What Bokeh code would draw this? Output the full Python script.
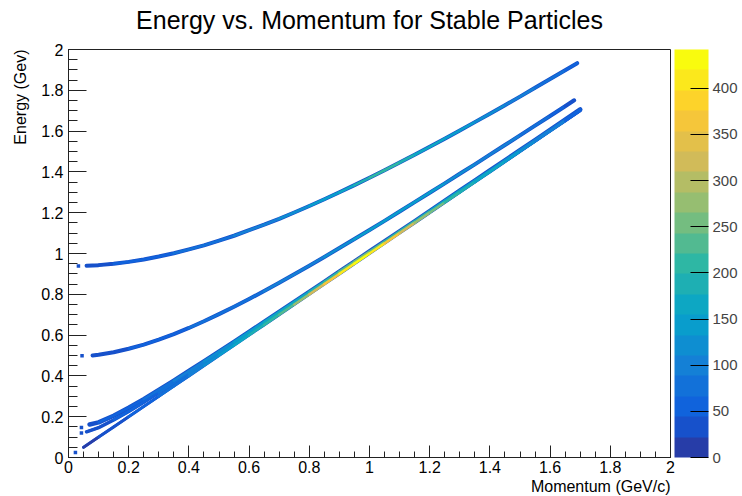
import numpy as np
from bokeh.plotting import figure
from bokeh.models import (ColumnDataSource, LinearColorMapper, ColorBar, FixedTicker,
                          Title, Range1d)
from bokeh.transform import transform
from bokeh.embed import file_html
from bokeh.resources import INLINE

# ---------------- data ----------------
proton_p = [0.06, 0.10, 0.15, 0.20, 0.25, 0.30, 0.35, 0.40, 0.45, 0.50, 0.55, 0.60, 0.65, 0.70,
            0.75, 0.80, 0.85, 0.90, 0.95, 1.00, 1.05, 1.10, 1.15, 1.20, 1.25, 1.30, 1.35, 1.40,
            1.45, 1.50, 1.55, 1.60, 1.65, 1.69]
proton_E = [0.940, 0.943, 0.950, 0.959, 0.971, 0.985, 1.001, 1.020, 1.040, 1.063, 1.087, 1.114,
            1.141, 1.170, 1.201, 1.233, 1.266, 1.300, 1.335, 1.371, 1.408, 1.446, 1.484, 1.523,
            1.563, 1.603, 1.644, 1.685, 1.727, 1.769, 1.812, 1.855, 1.898, 1.933]
proton_n = [35, 40, 45, 50, 55, 60, 65, 70, 75, 80, 85, 95, 105, 115, 125, 135, 145, 160, 180,
            200, 210, 190, 170, 160, 150, 140, 130, 120, 110, 100, 90, 80, 60, 35]

kaon_p = [0.08, 0.10, 0.15, 0.20, 0.25, 0.30, 0.35, 0.40, 0.45, 0.50, 0.55, 0.60, 0.65, 0.70,
          0.75, 0.80, 0.85, 0.90, 0.95, 1.00, 1.05, 1.10, 1.15, 1.20, 1.25, 1.30, 1.35, 1.40,
          1.45, 1.50, 1.55, 1.60, 1.65, 1.68]
kaon_E = [0.500, 0.504, 0.516, 0.533, 0.553, 0.578, 0.605, 0.635, 0.668, 0.703, 0.739, 0.777,
          0.816, 0.857, 0.898, 0.940, 0.983, 1.027, 1.071, 1.115, 1.160, 1.206, 1.252, 1.298,
          1.344, 1.391, 1.437, 1.485, 1.532, 1.579, 1.627, 1.674, 1.722, 1.751]
kaon_n = [35, 40, 40, 45, 50, 55, 60, 65, 70, 75, 80, 85, 90, 95, 100, 105, 110, 120, 130, 140,
          150, 150, 145, 140, 130, 120, 110, 105, 95, 85, 75, 65, 50, 30]

pion_p = [0.07, 0.10, 0.15, 0.20, 0.25, 0.30, 0.35, 0.40, 0.45, 0.50, 0.55, 0.60, 0.65, 0.70,
          0.75, 0.80, 0.85, 0.90, 0.95, 1.00, 1.05, 1.10, 1.15, 1.20, 1.25, 1.30, 1.35, 1.40,
          1.45, 1.50, 1.55, 1.60, 1.65, 1.70]
pion_E = [0.162, 0.172, 0.205, 0.244, 0.286, 0.331, 0.377, 0.424, 0.471, 0.519, 0.567, 0.616,
          0.665, 0.714, 0.763, 0.812, 0.861, 0.911, 0.960, 1.010, 1.059, 1.109, 1.158, 1.208,
          1.258, 1.308, 1.357, 1.407, 1.457, 1.507, 1.556, 1.606, 1.656, 1.706]
pion_n = [30, 40, 50, 60, 70, 80, 90, 100, 110, 120, 130, 140, 150, 160, 170, 180, 200, 220,
          240, 250, 230, 210, 190, 170, 160, 150, 140, 130, 120, 110, 100, 90, 70, 40]

muon_p = [0.06, 0.10, 0.15, 0.20, 0.25, 0.30, 0.35, 0.40, 0.45, 0.50, 0.55, 0.60, 0.65, 0.70,
          0.75, 0.80, 0.85, 0.90, 0.95, 1.00, 1.05, 1.10, 1.15, 1.20, 1.25, 1.30, 1.35, 1.40,
          1.45, 1.50, 1.55, 1.60, 1.65, 1.70]
muon_E = [0.126, 0.146, 0.184, 0.226, 0.271, 0.318, 0.366, 0.414, 0.462, 0.511, 0.560, 0.609,
          0.659, 0.708, 0.757, 0.807, 0.857, 0.906, 0.956, 1.006, 1.055, 1.105, 1.155, 1.205,
          1.255, 1.304, 1.354, 1.404, 1.454, 1.504, 1.554, 1.604, 1.653, 1.703]
muon_n = [20, 30, 40, 50, 60, 70, 80, 90, 100, 110, 120, 130, 140, 150, 160, 170, 190, 210,
          230, 240, 220, 200, 180, 160, 150, 140, 130, 120, 110, 100, 90, 80, 60, 35]

electron_p = [0.05, 0.10, 0.15, 0.20, 0.25, 0.30, 0.35, 0.40, 0.45, 0.50, 0.55, 0.60, 0.65,
              0.70, 0.75, 0.80, 0.85, 0.90, 0.95, 1.00, 1.05, 1.10, 1.15, 1.20, 1.25, 1.30,
              1.35, 1.40, 1.45, 1.50, 1.55, 1.60, 1.65, 1.70]
electron_E = [0.050, 0.100, 0.150, 0.200, 0.250, 0.300, 0.350, 0.400, 0.450, 0.500, 0.550,
              0.600, 0.650, 0.700, 0.750, 0.800, 0.850, 0.900, 0.950, 1.000, 1.050, 1.100,
              1.150, 1.200, 1.250, 1.300, 1.350, 1.400, 1.450, 1.500, 1.550, 1.600, 1.650, 1.700]
electron_n = [15, 20, 30, 40, 50, 60, 75, 90, 110, 130, 150, 170, 190, 220, 260, 300, 340, 380,
              420, 435, 380, 330, 290, 260, 230, 200, 180, 160, 150, 130, 120, 100, 80, 50]

# isolated low-momentum cells
dots_p = [0.023, 0.043, 0.043, 0.033, 0.045]
dots_E = [0.024, 0.120, 0.147, 0.939, 0.499]

x_ticks = [0, 0.2, 0.4, 0.6, 0.8, 1, 1.2, 1.4, 1.6, 1.8, 2]
x_tick_labels = ["0", "0.2", "0.4", "0.6", "0.8", "1", "1.2", "1.4", "1.6", "1.8", "2"]
y_ticks = x_ticks
y_tick_labels = x_tick_labels
z_ticks = [0, 50, 100, 150, 200, 250, 300, 350, 400]
z_max = 442

title_text = "Energy vs. Momentum for Stable Particles"
x_title = "Momentum (GeV/c)"
y_title = "Energy (Gev)"

# ---------------- ROOT kBird palette, 20 contour levels ----------------
_st = np.linspace(0, 1, 9)
_R = [0.2082, 0.0592, 0.0780, 0.0232, 0.1802, 0.5301, 0.8186, 0.9956, 0.9764]
_G = [0.1664, 0.3599, 0.5041, 0.6419, 0.7178, 0.7492, 0.7328, 0.7862, 0.9832]
_B = [0.5293, 0.8684, 0.8385, 0.7914, 0.6425, 0.4662, 0.3499, 0.1968, 0.0539]
palette = []
for i in range(20):
    t = min(int((i + 0.99) * 255 / 20) / 254.0, 1.0)
    r, g, b = (int(round(255 * np.interp(t, _st, c))) for c in (_R, _G, _B))
    palette.append("#%02x%02x%02x" % (r, g, b))

mapper = LinearColorMapper(palette=palette, low=0, high=z_max)

FONT = "Liberation Sans"

p = figure(width=742, height=496, x_range=Range1d(0, 2), y_range=Range1d(0, 2),
           output_backend="svg", toolbar_location=None, title=None,
           min_border_left=67, min_border_right=72, min_border_top=49, min_border_bottom=39)
p.grid.visible = False
p.outline_line_color = "#222222"
p.background_fill_color = "white"

for ax, ticks, labels, tin, mtin, so in ((p.xaxis[0], x_ticks, x_tick_labels, 12, 6, 3),
                                         (p.yaxis[0], y_ticks, y_tick_labels, 18, 9, 5)):
    ax.ticker = FixedTicker(ticks=ticks, minor_ticks=[round(0.05 * k, 2) for k in range(41)])
    ax.major_label_overrides = dict(zip(ticks, labels))
    ax.major_tick_in = tin
    ax.major_tick_out = 0
    ax.minor_tick_in = mtin
    ax.minor_tick_out = 0
    ax.axis_line_color = "#222222"
    ax.major_tick_line_color = "#222222"
    ax.minor_tick_line_color = "#222222"
    ax.major_label_text_font = FONT
    ax.major_label_text_font_size = "16px"
    ax.major_label_text_color = "black"
    ax.major_label_standoff = so

curves = [(muon_p, muon_E, muon_n, 3.5),
          (pion_p, pion_E, pion_n, 4.5),
          (electron_p, electron_E, electron_n, 3.0),
          (kaon_p, kaon_E, kaon_n, 4.0),
          (proton_p, proton_E, proton_n, 4.0)]

# edge (low-count) cells of each track
for cp, cE, cn, w in curves:
    p.line(cp, cE, line_color=palette[1], line_width=w, line_join="round", line_cap="round")

# core cells coloured by bin content
for cp, cE, cn, w in curves:
    src = ColumnDataSource(dict(x0=cp[:-1], y0=cE[:-1], x1=cp[1:], y1=cE[1:],
                                n=[0.5 * (a + b) for a, b in zip(cn[:-1], cn[1:])]))
    p.segment("x0", "y0", "x1", "y1", source=src, line_width=2.6, line_cap="round",
              line_color=transform("n", mapper))

p.scatter(dots_p, dots_E, marker="square", size=3.5, fill_color=palette[1],
          line_color=None)

cb = ColorBar(color_mapper=mapper, ticker=FixedTicker(ticks=z_ticks), width=34,
              location=(4, 0), padding=0, margin=0, major_tick_in=18, major_tick_out=0,
              major_tick_line_color="black", minor_tick_line_color=None,
              label_standoff=4, major_label_text_font=FONT,
              major_label_text_font_size="15px", bar_line_color=None,
              border_line_color=None, background_fill_alpha=0)
p.add_layout(cb, "right")

# spacer next to the frame, then the main title above it
p.add_layout(Title(text=" ", text_font_size="1px", standoff=12), "above")
p.add_layout(Title(text=title_text, align="center", vertical_align="middle", offset=2,
                   text_font=FONT, text_font_size="25px", text_font_style="normal",
                   text_color="black", standoff=0), "above")

p.add_layout(Title(text=x_title, align="right", text_font=FONT, text_font_size="16px",
                   text_font_style="normal", text_color="black", standoff=0), "below")
p.add_layout(Title(text=y_title, align="right", text_font=FONT, text_font_size="16px",
                   text_font_style="normal", text_color="black", standoff=19), "left")

open("out.html", "w").write(file_html(p, INLINE))
